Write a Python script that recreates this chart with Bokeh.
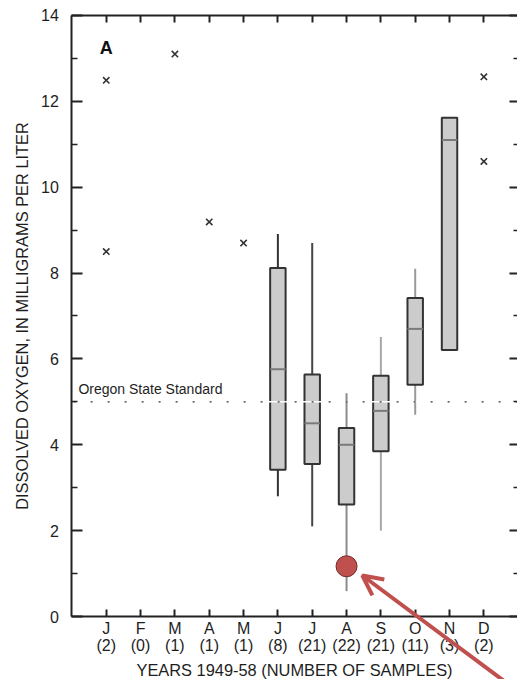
from bokeh.plotting import figure
from bokeh.models import (Range1d, LinearAxis, FixedTicker, Label, Arrow,
                          OpenHead, ColumnDataSource)
from bokeh.embed import file_html
from bokeh.resources import INLINE

# ---------------- data ----------------
months = ["J", "F", "M", "A", "M", "J", "J", "A", "S", "O", "N", "D"]
counts = [2, 0, 1, 1, 1, 8, 21, 22, 21, 11, 3, 2]
month_pos = list(range(1, 13))

# box plots (Jun..Nov)
box_pos = [6, 7, 8, 9, 10, 11]
q1 = [3.42, 3.55, 2.61, 3.85, 5.40, 6.21]
med = [5.76, 4.50, 4.00, 4.79, 6.70, 11.10]
q3 = [8.12, 5.64, 4.39, 5.61, 7.42, 11.62]

# whiskers (Jun..Oct; Nov has none)
wh_pos = [6, 7, 8, 9, 10]
wh_lo = [2.80, 2.10, 0.59, 2.00, 4.70]
wh_hi = [8.91, 8.70, 5.20, 6.51, 8.10]
wh_color = ["#333333", "#444444", "#8c8c8c", "#a8a8a8", "#9a9a9a"]

# individual samples (months with few samples)
pt_x = [1, 1, 3, 4, 5, 12, 12]
pt_y = [12.49, 8.50, 13.10, 9.19, 8.70, 12.57, 10.60]

# highlighted minimum (August)
hl_x = [8]
hl_y = [1.17]

standard_value = 5.0
standard_label = "Oregon State Standard"
panel_label = "A"

# axis extents (data units)
x_min, x_max = 0, 13
y_min, y_max = 0, 14
y_major = list(range(0, 15, 2))
y_minor = list(range(1, 14, 2))

# arrow annotation (tail beyond lower right, head near highlighted point)
arrow_tail = (12.77, -1.61)
arrow_head = (8.46, 0.955)

FONT = "Liberation Sans"
TXT = "#1e1e1e"
AX = "#222222"

tick_labels = {m: f"{lab}\n({c})" for m, lab, c in zip(month_pos, months, counts)}

# frame covers the whole canvas; axes are pinned at data locations
p = figure(width=517, height=679, output_backend="svg", toolbar_location=None,
           x_range=Range1d(-2.080, 12.98), y_range=Range1d(-1.4675, 14.349),
           x_axis_type=None, y_axis_type=None,
           min_border_left=0, min_border_right=0, min_border_top=0,
           min_border_bottom=0)
p.outline_line_color = None
p.background_fill_color = "white"
p.border_fill_color = "white"

common = dict(axis_line_color=AX, axis_line_width=2, major_tick_line_color=AX,
              major_tick_line_width=2, minor_tick_line_color=AX,
              minor_tick_line_width=1.5, major_tick_out=0, minor_tick_out=0)

# left axis
yl = LinearAxis(ticker=FixedTicker(ticks=y_major, minor_ticks=y_minor),
                bounds=(y_min, y_max), fixed_location=x_min,
                axis_label="DISSOLVED OXYGEN, IN MILLIGRAMS PER LITER",
                major_tick_in=11, minor_tick_in=6,
                major_label_standoff=13, axis_label_standoff=7,
                major_label_text_font=FONT, major_label_text_font_size="16px",
                major_label_text_color=TXT,
                axis_label_text_font=FONT, axis_label_text_font_size="16.4px",
                axis_label_text_font_style="normal", axis_label_text_color=TXT,
                **common)
p.add_layout(yl, "left")

# right axis (ticks only)
yr = LinearAxis(ticker=FixedTicker(ticks=y_major, minor_ticks=y_minor),
                bounds=(y_min, y_max), fixed_location=x_max,
                major_tick_in=9, minor_tick_in=5, major_label_text_color=None,
                **common)
yr.axis_line_color = None
p.add_layout(yr, "right")

# bottom axis
xb = LinearAxis(ticker=FixedTicker(ticks=month_pos, minor_ticks=[]),
                bounds=(x_min, x_max), fixed_location=y_min,
                major_label_overrides=tick_labels,
                axis_label="YEARS 1949-58 (NUMBER OF SAMPLES)",
                major_tick_in=7, minor_tick_in=0,
                major_label_standoff=3, axis_label_standoff=4,
                major_label_text_font=FONT, major_label_text_font_size="16px",
                major_label_text_color=TXT, major_label_text_line_height=1.05,
                axis_label_text_font=FONT, axis_label_text_font_size="16.4px",
                axis_label_text_font_style="normal", axis_label_text_color=TXT,
                **common)
p.add_layout(xb, "below")

# top axis (ticks only)
xt = LinearAxis(ticker=FixedTicker(ticks=month_pos, minor_ticks=[]),
                bounds=(x_min, x_max), fixed_location=y_max,
                major_tick_in=7, minor_tick_in=0, major_label_text_color=None,
                **common)
p.add_layout(xt, "above")

# whiskers
wsrc = ColumnDataSource(dict(x=wh_pos, lo=wh_lo, hi=wh_hi, c=wh_color,
                             q1=q1[:5], q3=q3[:5]))
p.segment(x0="x", y0="lo", x1="x", y1="q1", source=wsrc, line_color="c", line_width=2)
p.segment(x0="x", y0="q3", x1="x", y1="hi", source=wsrc, line_color="c", line_width=2)

# boxes
bw = 0.45
bsrc = ColumnDataSource(dict(x=box_pos, q1=q1, q3=q3, med=med,
                             xl=[b - bw / 2 for b in box_pos],
                             xr=[b + bw / 2 for b in box_pos]))
p.vbar(x="x", width=bw, bottom="q1", top="q3", source=bsrc,
       fill_color="#cccccc", line_color="#333333", line_width=2)
p.segment(x0="xl", y0="med", x1="xr", y1="med", source=bsrc,
          line_color="#7a7a7a", line_width=2)

# standard line (white under-dash + dark dots), from axis to axis
p.segment(x0=[x_min], y0=[standard_value], x1=[x_max], y1=[standard_value],
          line_color="white", line_width=1.5)
p.segment(x0=[x_min + 0.05], y0=[standard_value], x1=[x_max], y1=[standard_value],
          line_color="#333333", line_width=1.3, line_dash="2 15")
p.add_layout(Label(x=0.19, y=standard_value + 0.3, text=standard_label,
                   text_font=FONT, text_font_size="14px", text_color=TXT,
                   text_baseline="alphabetic", text_align="left"))

# individual samples
p.scatter(pt_x, pt_y, marker="x", size=9, line_color="#333333", line_width=1.6)

# highlighted point
p.scatter(hl_x, hl_y, marker="circle", size=21, fill_color="#c0504d",
          line_color="#6a2a28", line_width=1)

# panel label
p.add_layout(Label(x=1.0, y=13.24, text=panel_label, text_font=FONT,
                   text_font_size="18px", text_font_style="bold",
                   text_color="#111111", text_align="center",
                   text_baseline="middle"))

# arrow
p.add_layout(Arrow(x_start=arrow_tail[0], y_start=arrow_tail[1],
                   x_end=arrow_head[0], y_end=arrow_head[1],
                   line_color="#c0504d", line_width=4,
                   end=OpenHead(size=20, line_color="#c0504d", line_width=4)))

open("out.html", "w").write(file_html(p, INLINE))
